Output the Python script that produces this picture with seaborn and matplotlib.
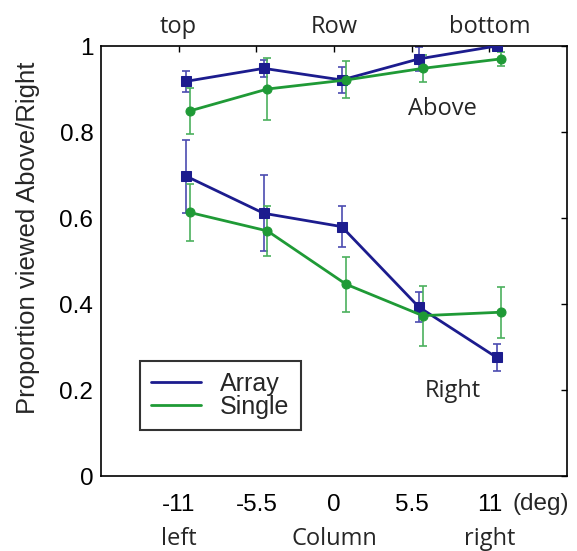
import matplotlib
matplotlib.use("Agg")
import matplotlib.pyplot as plt
import seaborn as sns
import pandas as pd

# ---- data ----
positions = [-11, -5.5, 0, 5.5, 11]
tick_labels = ["-11", "-5.5", "0", "5.5", "11"]
top_labels = ["top", "", "Row", "", "bottom"]
bottom_names = ["left", "", "Column", "", "right"]
y_ticks = [0, 0.2, 0.4, 0.6, 0.8, 1]
y_tick_labels = ["0", "0.2", "0.4", "0.6", "0.8", "1"]

array_x = [-10.45, -4.98, 0.54, 6.0, 11.5]
single_x = [-10.22, -4.72, 0.85, 6.27, 11.8]

array_above = [0.918, 0.948, 0.921, 0.970, 1.000]
array_above_err = [0.024, 0.019, 0.031, 0.027, 0.0]
single_above = [0.849, 0.900, 0.921, 0.948, 0.970]
single_above_err = [0.053, 0.071, 0.043, 0.032, 0.016]

array_right = [0.697, 0.611, 0.580, 0.393, 0.276]
array_right_err = [0.085, 0.088, 0.047, 0.035, 0.031]
single_right = [0.613, 0.570, 0.446, 0.373, 0.381]
single_right_err = [0.067, 0.059, 0.064, 0.070, 0.059]

BLUE = "#1c1c8e"
GREEN = "#1f9a36"
BLUE_E = "#4b4bb0"
GREEN_E = "#4cb05e"

sns.set_style("white")
plt.rcParams["font.family"] = ["Liberation Sans", "DejaVu Sans"]

fig = plt.figure(figsize=(5.77, 5.51), dpi=100)
ax = fig.add_axes([0.175, 0.136, 0.808, 0.7805])

rows = []
for cond, xs, ab, rt in [("Array", array_x, array_above, array_right),
                         ("Single", single_x, single_above, single_right)]:
    for x, a, r in zip(xs, ab, rt):
        rows.append(dict(cond=cond, x=x, y=a, measure="Above"))
        rows.append(dict(cond=cond, x=x, y=r, measure="Right"))
df = pd.DataFrame(rows)

styles = {"Array": (BLUE, BLUE_E, "s"), "Single": (GREEN, GREEN_E, "o")}
errs = {("Array", "Above"): array_above_err, ("Array", "Right"): array_right_err,
        ("Single", "Above"): single_above_err, ("Single", "Right"): single_right_err}

for cond in ["Array", "Single"]:
    col, ecol, mk = styles[cond]
    for meas in ["Above", "Right"]:
        sub = df[(df.cond == cond) & (df.measure == meas)]
        ax.errorbar(sub.x, sub.y, yerr=errs[(cond, meas)], fmt="none",
                    ecolor=ecol, elinewidth=1.2, capsize=3, capthick=1.2, zorder=2)
        sns.lineplot(data=sub, x="x", y="y", ax=ax, color=col, marker=mk,
                     markersize=6.5, markeredgecolor=col, linewidth=2.0,
                     label=cond if meas == "Above" else None, legend=False,
                     estimator=None, sort=False, zorder=3)

ax.set_xlim(-16.5, 16.5)
ax.set_ylim(0, 1)
ax.set_xticks(positions)
ax.set_xticklabels(tick_labels)
ax.set_yticks(y_ticks)
ax.set_yticklabels(y_tick_labels)
ax.tick_params(direction="in", length=4, width=1, labelsize=17.5, colors="black",
               top=True, right=True)
ax.tick_params(axis="y", pad=5.5)
ax.tick_params(axis="x", pad=13)
for sp in ax.spines.values():
    sp.set_color("black")
    sp.set_linewidth(1.2)
ax.set_xlabel("")
ax.set_ylabel("Proportion viewed Above/Right", fontsize=18.5)
ax.yaxis.set_label_coords(-0.13, 0.554)

# top labels (Row)
for p, lab in zip(positions, top_labels):
    if lab:
        ax.text(p, 1.03, lab, transform=ax.get_xaxis_transform(), ha="center",
                va="baseline", fontsize=17, family="Open Sans")

# bottom names (Column)
for p, lab in zip(positions, bottom_names):
    if lab:
        ax.text(p, -0.161, lab, transform=ax.get_xaxis_transform(), ha="center",
                va="baseline", fontsize=17, family="Open Sans")
ax.text(12.6, -0.0785, "(deg)", transform=ax.get_xaxis_transform(), ha="left",
        va="baseline", fontsize=17.5)

ax.text(7.7, 0.853, "Above", ha="center", va="center", fontsize=17, family="Open Sans")
ax.text(8.4, 0.198, "Right", ha="center", va="center", fontsize=17, family="Open Sans")

leg = ax.legend(loc="lower left", bbox_to_anchor=(0.084, 0.107), fontsize=18,
                frameon=True, fancybox=False, handlelength=2.0, borderpad=0.45,
                borderaxespad=0, labelspacing=-0.05, handletextpad=0.75)
leg.get_frame().set_edgecolor("black")
leg.get_frame().set_linewidth(1.5)
for h in leg.legend_handles:
    h.set_marker("")

fig.savefig("out.png", dpi=100)
